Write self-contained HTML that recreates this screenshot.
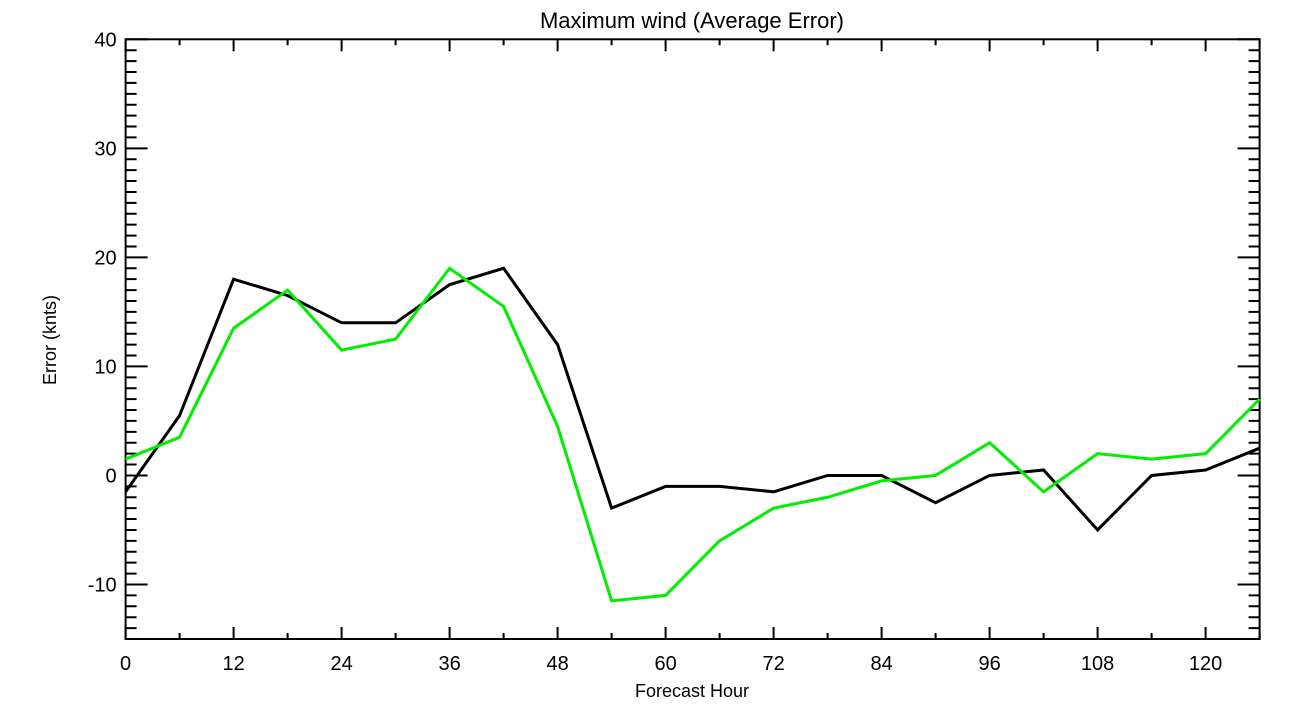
<!DOCTYPE html>
<html><head><meta charset="utf-8"><style>
html,body{margin:0;padding:0;background:#fff;}
svg{display:block;font-family:"Liberation Sans",sans-serif;}
</style></head><body>
<svg id="chart" width="1296" height="720">
<text x="692" y="28" text-anchor="middle" font-size="22">Maximum wind (Average Error)</text>
<text x="692" y="697" text-anchor="middle" font-size="18">Forecast Hour</text>
<text x="56" y="340" text-anchor="middle" font-size="18" transform="rotate(-90 56 340)">Error (knts)</text>
<g id="axes"></g><g id="series"></g>
</svg>
<script>
const hours=[0,6,12,18,24,30,36,42,48,54,60,66,72,78,84,90,96,102,108,114,120,126];
const blackSeries=[-1.5,5.5,18,16.5,14,14,17.5,19,12,-3,-1,-1,-1.5,0,0,-2.5,0,0.5,-5,0,0.5,2.5];
const greenSeries=[1.5,3.5,13.5,17,11.5,12.5,19,15.5,4.5,-11.5,-11,-6,-3,-2,-0.5,0,3,-1.5,2,1.5,2,7];
const xTicks=[0,12,24,36,48,60,72,84,96,108,120];
const yTicks=[-10,0,10,20,30,40];
const X0=125.6,X1=1259.6,Y0=639,Y1=39.3,xmin=0,xmax=126,ymin=-15,ymax=40;
const xs=v=>X0+(v-xmin)/(xmax-xmin)*(X1-X0);
const ys=v=>Y0-(v-ymin)/(ymax-ymin)*(Y0-Y1);
const NS='http://www.w3.org/2000/svg';
const axes=document.getElementById('axes'),ser=document.getElementById('series');
function mk(t,a,p){const e=document.createElementNS(NS,t);for(const k in a)e.setAttribute(k,a[k]);p.appendChild(e);return e;}
const frame=mk('rect',{x:X0,y:Y1,width:X1-X0,height:Y0-Y1,fill:'none',stroke:'#000','stroke-width':2},axes);


let d='';
for(let h=0;h<=126;h+=6){const x=xs(h),L=(h%12===0)?12:6;d+=`M${x} ${Y0}v${-L}M${x} ${Y1}v${L}`;}
for(let v=-15;v<=40;v++){const y=ys(v),L=(v%10===0)?22:11;d+=`M${X0} ${y}h${L}M${X1} ${y}h${-L}`;}
const tk=mk('path',{d:d,stroke:'#000','stroke-width':2,fill:'none'},axes);


xTicks.forEach(h=>{const t=mk('text',{x:xs(h),y:670,'text-anchor':'middle','font-size':20},axes);t.textContent=h;

});
yTicks.forEach(v=>{const t=mk('text',{x:X0-9,y:ys(v)+7,'text-anchor':'end','font-size':20},axes);t.textContent=v;

});
function line(vals,color,name){const pts=vals.map((v,i)=>xs(hours[i])+','+ys(v)).join(' ');
const p=mk('polyline',{points:pts,fill:'none',stroke:color,'stroke-width':3,'stroke-linejoin':'miter'},ser);

}
line(blackSeries,'#000','black-series-line');
line(greenSeries,'#00ee00','green-series-line');
</script>
</body></html>
